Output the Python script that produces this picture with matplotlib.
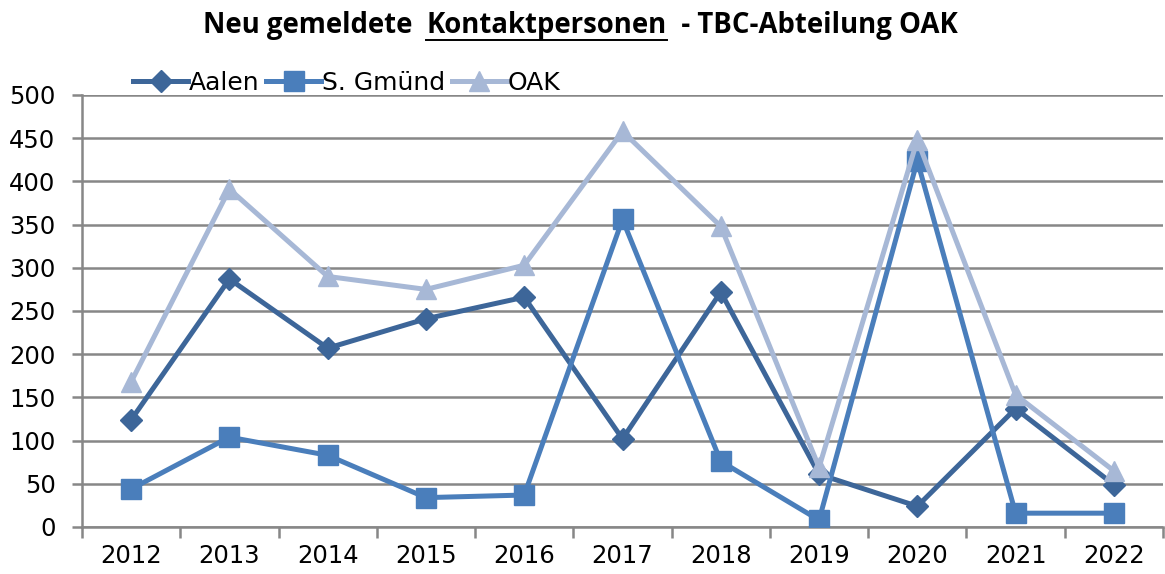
import numpy as np
import matplotlib.pyplot as plt
from matplotlib.ticker import FixedLocator

years = ['2012', '2013', '2014', '2015', '2016', '2017', '2018', '2019', '2020', '2021', '2022']
aalen = [124, 287, 207, 241, 266, 102, 272, 61, 24, 137, 49]
gmuend = [44, 104, 83, 34, 37, 356, 76, 8, 424, 16, 16]
oak = [168, 391, 290, 275, 303, 458, 348, 69, 448, 153, 65]

c_aalen = '#3D6699'
c_gmuend = '#4A7EBB'
c_oak = '#A7B8D6'
grid_c = '#878787'


def main():
    plt.rcParams['font.family'] = ['DejaVu Sans']
    fig = plt.figure(figsize=(11.65, 5.74), dpi=100)
    ax = fig.add_axes([82 / 1165, 47 / 574, 1081 / 1165, 432 / 574])

    x = np.arange(len(years))
    ax.plot(x, aalen, color=c_aalen, lw=3.6, marker='D', ms=11, label='Aalen', zorder=3)
    ax.plot(x, gmuend, color=c_gmuend, lw=3.6, marker='s', ms=14, label='S. Gmünd', zorder=4)
    ax.plot(x, oak, color=c_oak, lw=3.6, marker='^', ms=14.5, label='OAK', zorder=5)

    ax.set_xlim(-0.5, len(years) - 0.5)
    ax.set_ylim(0, 500)
    ax.set_yticks(np.arange(0, 501, 50))
    ax.yaxis.grid(True, color=grid_c, lw=1.8)
    ax.set_axisbelow(True)

    ax.set_xticks(x)
    ax.set_xticklabels(years)
    ax.xaxis.set_minor_locator(FixedLocator(np.arange(-0.5, len(years), 1)))
    ax.tick_params(axis='x', which='major', length=0, pad=12, labelsize=17.5)
    ax.tick_params(axis='x', which='minor', length=8, width=1.8, color=grid_c)
    ax.tick_params(axis='y', length=7, width=1.8, color=grid_c, labelsize=17.5, pad=12)

    for s in ['top', 'right']:
        ax.spines[s].set_visible(False)
    ax.spines['left'].set_color(grid_c)
    ax.spines['left'].set_linewidth(1.8)
    ax.spines['bottom'].set_color(grid_c)
    ax.spines['bottom'].set_linewidth(1.8)

    fig.legend(loc='center left', bbox_to_anchor=(133 / 1165, 1 - 83 / 574),
               ncol=3, frameon=False, fontsize=18, handlelength=2.2,
               handletextpad=0.05, columnspacing=0.25, borderaxespad=0,
               borderpad=0)

    # Title in three parts, middle part underlined
    fs = 19.8
    ty = 1 - 26 / 574
    parts = ['Neu gemeldete  ', 'Kontaktpersonen', '  - TBC-Abteilung OAK']
    texts = [fig.text(0, ty, p, fontsize=fs, fontweight='bold', family='Open Sans',
                      va='center', ha='left') for p in parts]
    fig.canvas.draw()
    r = fig.canvas.get_renderer()
    widths = [t.get_window_extent(r).width for t in texts]
    total = sum(widths)
    x0 = 580 - total / 2
    for t, w in zip(texts, widths):
        t.set_x(x0 / 1165)
        x0 += w
    fig.canvas.draw()
    bb = texts[1].get_window_extent(r)
    uy = 1 - 40 / 574
    fig.add_artist(plt.Line2D([bb.x0 / 1165, bb.x1 / 1165], [uy, uy],
                              color='black', lw=1.4, transform=fig.transFigure))

    fig.savefig('out.png', dpi=100)


if __name__ == "__main__":
    main()
